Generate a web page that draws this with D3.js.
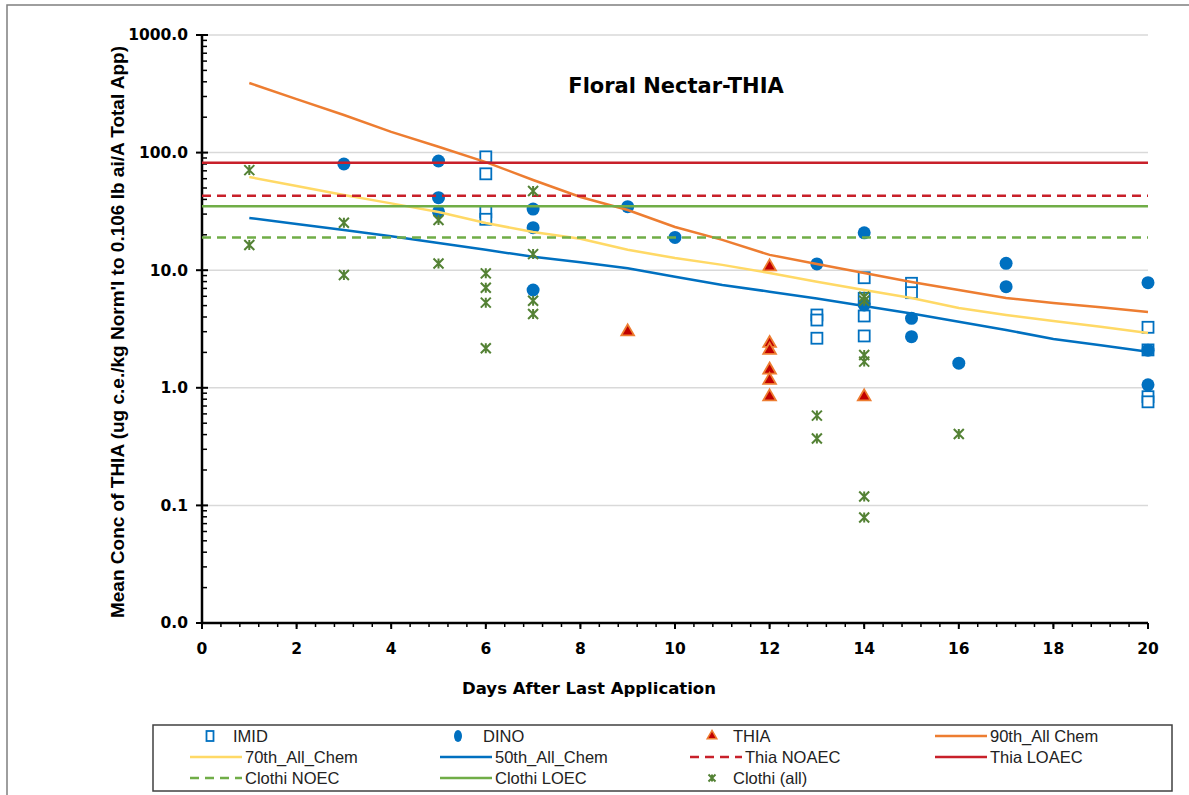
<!DOCTYPE html>
<html>
<head>
<meta charset="utf-8">
<script src="https://cdn.jsdelivr.net/npm/d3@7"></script>
<style>
  body { margin: 0; background: #fff; }
  text { fill: #000; }
</style>
</head>
<body>
<svg id="chart" width="1189" height="795"></svg>
<script>
// Days after last application for the percentile curves
const days = d3.range(1, 21);
const p90 = [391, 285, 209, 150, 112, 83, 58.5, 41.9, 32.5, 23.3, 18.1, 13.5, 11.3, 9.46, 7.94, 6.79, 5.8, 5.26, 4.85, 4.41];
const p70 = [62, 52, 43.6, 37, 31.2, 25.2, 21.1, 18.5, 14.9, 12.7, 11.1, 9.46, 7.98, 6.79, 5.8, 4.77, 4.16, 3.7, 3.3, 2.92];
const p50 = [27.8, 24.7, 22, 19.4, 17, 14.9, 13, 11.7, 10.4, 8.8, 7.48, 6.57, 5.75, 4.96, 4.28, 3.65, 3.1, 2.6, 2.3, 2.03];

// Threshold levels
const thiaNoaec = 43;
const thiaLoaec = 82;
const clothiNoec = 19;
const clothiLoec = 35;

// Observed residues: [day, value]
const imid = [[6, 92], [6, 66], [6, 31.4], [6, 27.1], [13, 4.16], [13, 3.77], [13, 2.64],
  [14, 8.63], [14, 5.77], [14, 4.08], [14, 2.76], [15, 7.74], [15, 6.44],
  [20, 3.27], [20, 2.1], [20, 0.84], [20, 0.76]];
const dino = [[3, 80], [5, 84.8], [5, 41.4], [5, 31.4], [7, 33.1], [7, 23], [7, 6.79],
  [9, 34.7], [10, 19], [13, 11.3], [14, 20.8], [14, 5.06], [15, 3.9], [15, 2.72],
  [16, 1.62], [17, 11.45], [17, 7.24], [20, 7.83], [20, 2.09], [20, 1.06]];
const thia = [[9, 3.0], [12, 10.7], [12, 2.39], [12, 2.09], [12, 1.42], [12, 1.16], [12, 0.84], [14, 0.84]];
const clothi = [[1, 71], [1, 16.4], [3, 25.3], [3, 9.1], [5, 26.7], [5, 11.4],
  [6, 9.4], [6, 7.1], [6, 5.3], [6, 2.17], [7, 47.1], [7, 13.7], [7, 5.5], [7, 4.24],
  [13, 0.58], [13, 0.37], [14, 5.95], [14, 5.5], [14, 1.9], [14, 1.67], [14, 0.119], [14, 0.079],
  [16, 0.405]];

const xTicks = d3.range(0, 21, 2);
const yTicks = [0.01, 0.1, 1, 10, 100, 1000];

const colors = {
  blue: '#0070C0',
  orange: '#ED7D31',
  yellow: '#FFD966',
  red: '#C8202A',
  green: '#70AD47',
  darkGreen: '#548235',
  grid: '#D9D9D9'
};

const svg = d3.select('#chart');
const x = d3.scaleLinear([0, 20], [202, 1148]);
const y = d3.scaleLog([0.01, 1000], [623, 35]);

// outer frame
svg.append('rect')
  .attr('x', 7).attr('y', 5).attr('width', 1200).attr('height', 800)
  .attr('fill', 'none').attr('stroke', '#7F7F7F').attr('stroke-width', 1.5);

// gridlines
svg.append('g')
  .selectAll('line')
  .data(yTicks.slice(1))
  .join('line')
  .attr('x1', x(0)).attr('x2', x(20))
  .attr('y1', d => y(d)).attr('y2', d => y(d))
  .attr('stroke', colors.grid).attr('stroke-width', 1.5);

// y axis with log minor ticks
const yMinor = [];
for (let e = -2; e < 3; e++) {
  for (let m = 2; m < 10; m++) yMinor.push(m * Math.pow(10, e));
}
const yAxisG = svg.append('g');
yAxisG.selectAll('.minor')
  .data(yMinor)
  .join('line')
  .attr('x1', x(0)).attr('x2', x(0) + 5)
  .attr('y1', d => y(d)).attr('y2', d => y(d))
  .attr('stroke', '#000').attr('stroke-width', 1.5);
yAxisG.selectAll('.major')
  .data(yTicks)
  .join('line')
  .attr('x1', x(0) - 6).attr('x2', x(0) + 6)
  .attr('y1', d => y(d)).attr('y2', d => y(d))
  .attr('stroke', '#000').attr('stroke-width', 2);
yAxisG.selectAll('text')
  .data(yTicks)
  .join('text')
  .attr('x', 188).attr('y', d => y(d))
  .attr('dy', '0.35em')
  .attr('text-anchor', 'end')
  .style('font', 'bold 15.5px "DejaVu Sans"')
  .text(d => d3.format('.1f')(d));

// x axis with minor ticks every 0.4
const xMinor = d3.range(0, 20.01, 0.4);
const xAxisG = svg.append('g');
xAxisG.selectAll('.minor')
  .data(xMinor)
  .join('line')
  .attr('x1', d => x(d)).attr('x2', d => x(d))
  .attr('y1', y(0.01)).attr('y2', y(0.01) + 4)
  .attr('stroke', '#000').attr('stroke-width', 1.5);
xAxisG.selectAll('.major')
  .data(xTicks)
  .join('line')
  .attr('x1', d => x(d)).attr('x2', d => x(d))
  .attr('y1', y(0.01)).attr('y2', y(0.01) + 6)
  .attr('stroke', '#000').attr('stroke-width', 2);
xAxisG.selectAll('text')
  .data(xTicks)
  .join('text')
  .attr('x', d => x(d)).attr('y', 649)
  .attr('dy', '0.35em')
  .attr('text-anchor', 'middle')
  .style('font', 'bold 15.5px "DejaVu Sans"')
  .text(d => d);

// axis lines on top of ticks
svg.append('line')
  .attr('x1', x(0)).attr('x2', x(0)).attr('y1', y(1000) - 1).attr('y2', y(0.01))
  .attr('stroke', '#000').attr('stroke-width', 2.5);
svg.append('line')
  .attr('x1', x(0)).attr('x2', x(20)).attr('y1', y(0.01)).attr('y2', y(0.01))
  .attr('stroke', '#000').attr('stroke-width', 2.5);

// markers
const sym = (type, size) => d3.symbol(type, size)();
const starPath = r => `M${-r},${-r}L${r},${r}M${-r},${r}L${r},${-r}M0,${-r}L0,${r}`;

const plot = svg.append('g');

plot.selectAll('.imid')
  .data(imid)
  .join('rect')
  .attr('x', d => x(d[0]) - 5.5).attr('y', d => y(d[1]) - 5.5)
  .attr('width', 11).attr('height', 11)
  .attr('fill', '#fff').attr('stroke', colors.blue).attr('stroke-width', 1.8);

plot.selectAll('.dino')
  .data(dino)
  .join('circle')
  .attr('cx', d => x(d[0])).attr('cy', d => y(d[1]))
  .attr('r', 6.5)
  .attr('fill', colors.blue);

plot.selectAll('.thia')
  .data(thia)
  .join('path')
  .attr('transform', d => `translate(${x(d[0])},${y(d[1])})`)
  .attr('d', sym(d3.symbolTriangle, 70))
  .attr('fill', '#C00000').attr('stroke', colors.orange).attr('stroke-width', 1.8);

const line = d3.line().x(d => x(d[0])).y(d => y(d[1]));
const curves = [
  { vals: p90, color: colors.orange },
  { vals: p70, color: colors.yellow },
  { vals: p50, color: colors.blue }
];
curves.forEach(c => {
  plot.append('path')
    .datum(days.map((d, i) => [d, c.vals[i]]))
    .attr('d', line)
    .attr('fill', 'none').attr('stroke', c.color).attr('stroke-width', 2.5);
});

const levels = [
  { v: thiaNoaec, color: colors.red, dash: '9,6' },
  { v: thiaLoaec, color: colors.red, dash: null },
  { v: clothiNoec, color: colors.green, dash: '9,6' },
  { v: clothiLoec, color: colors.green, dash: null }
];
levels.forEach(l => {
  plot.append('line')
    .attr('x1', x(0)).attr('x2', x(20))
    .attr('y1', y(l.v)).attr('y2', y(l.v))
    .attr('stroke', l.color).attr('stroke-width', 2.5)
    .attr('stroke-dasharray', l.dash);
});

plot.selectAll('.clothi')
  .data(clothi)
  .join('path')
  .attr('transform', d => `translate(${x(d[0])},${y(d[1])})`)
  .attr('d', starPath(5))
  .attr('fill', 'none').attr('stroke', colors.darkGreen).attr('stroke-width', 2);

// titles
svg.append('text')
  .attr('x', 676).attr('y', 86).attr('dy', '0.35em')
  .attr('text-anchor', 'middle')
  .style('font', 'bold 21px "DejaVu Sans"')
  .text('Floral Nectar-THIA');

svg.append('text')
  .attr('x', 589).attr('y', 688).attr('dy', '0.35em')
  .attr('text-anchor', 'middle')
  .style('font', 'bold 16.5px "DejaVu Sans"')
  .text('Days After Last Application');

svg.append('text')
  .attr('transform', 'translate(117,332) rotate(-90)')
  .attr('dy', '0.35em')
  .attr('text-anchor', 'middle')
  .style('font', 'bold 19px "Liberation Sans"')
  .text("Mean Conc of THIA (ug c.e./kg Norm'l to 0.106 lb ai/A Total App)");

// legend
const lg = svg.append('g');
lg.append('rect')
  .attr('x', 153).attr('y', 725).attr('width', 1019).attr('height', 66)
  .attr('fill', '#fff').attr('stroke', '#404040').attr('stroke-width', 1.5);

const legendItems = [
  { label: 'IMID', kind: 'square', col: 0, row: 0 },
  { label: 'DINO', kind: 'circle', col: 1, row: 0 },
  { label: 'THIA', kind: 'triangle', col: 2, row: 0 },
  { label: '90th_All Chem', kind: 'line', color: colors.orange, col: 3, row: 0 },
  { label: '70th_All_Chem', kind: 'line', color: colors.yellow, col: 0, row: 1 },
  { label: '50th_All_Chem', kind: 'line', color: colors.blue, col: 1, row: 1 },
  { label: 'Thia NOAEC', kind: 'line', color: colors.red, dash: '9,6', col: 2, row: 1 },
  { label: 'Thia LOAEC', kind: 'line', color: colors.red, col: 3, row: 1 },
  { label: 'Clothi NOEC', kind: 'line', color: colors.green, dash: '9,6', col: 0, row: 2 },
  { label: 'Clothi LOEC', kind: 'line', color: colors.green, col: 1, row: 2 },
  { label: 'Clothi (all)', kind: 'star', col: 2, row: 2 }
];
const colX = [190, 440, 690, 935];
const rowY = [736, 757, 778];

legendItems.forEach(it => {
  const cx = colX[it.col], cy = rowY[it.row];
  const g = lg.append('g');
  const mx = cx + 20;
  if (it.kind === 'line') {
    g.append('line')
      .attr('x1', cx).attr('x2', cx + 52).attr('y1', cy).attr('y2', cy)
      .attr('stroke', it.color).attr('stroke-width', 2.5)
      .attr('stroke-dasharray', it.dash || null);
  } else if (it.kind === 'square') {
    g.append('rect').attr('x', mx - 3.5).attr('y', cy - 5).attr('width', 7).attr('height', 10)
      .attr('fill', '#fff').attr('stroke', colors.blue).attr('stroke-width', 1.8);
  } else if (it.kind === 'circle') {
    g.append('ellipse').attr('cx', mx - 2).attr('cy', cy).attr('rx', 4).attr('ry', 6)
      .attr('fill', colors.blue);
  } else if (it.kind === 'triangle') {
    g.append('path').attr('transform', `translate(${mx + 2},${cy})`)
      .attr('d', sym(d3.symbolTriangle, 40))
      .attr('fill', '#C00000').attr('stroke', colors.orange).attr('stroke-width', 1.5);
  } else if (it.kind === 'star') {
    g.append('path').attr('transform', `translate(${mx + 2},${cy})`)
      .attr('d', starPath(3.5))
      .attr('fill', 'none').attr('stroke', colors.darkGreen).attr('stroke-width', 2);
  }
  const tx = it.kind === 'line' ? cx + 55 : cx + 43;
  g.append('text')
    .attr('x', tx).attr('y', cy).attr('dy', '0.35em')
    .style('font', '16.5px "Liberation Sans"')
    .style('fill', '#222')
    .text(it.label);
});
</script>
</body>
</html>
